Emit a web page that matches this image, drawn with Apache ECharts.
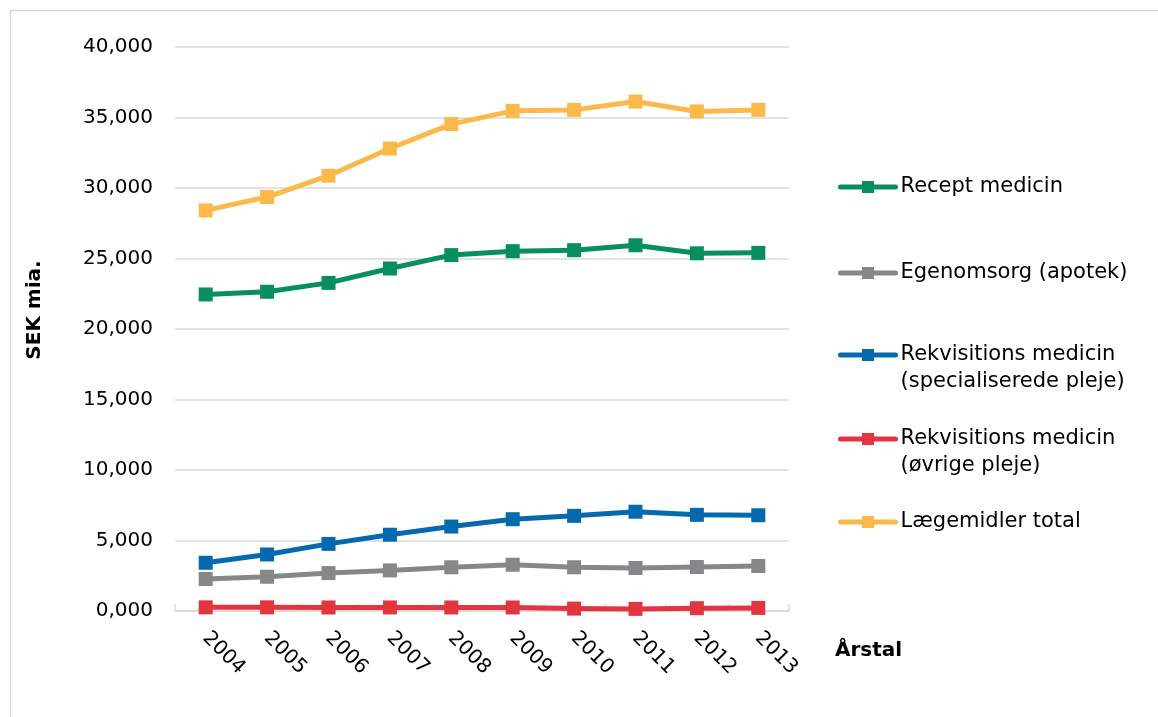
<!DOCTYPE html>
<html>
<head>
<meta charset="utf-8">
<title>Lægemidler</title>
<script src="https://cdn.jsdelivr.net/npm/echarts@6/dist/echarts.min.js"></script>
<style>
  html, body { margin: 0; padding: 0; background: #ffffff; }
  #chart { width: 1158px; height: 717px; }
</style>
</head>
<body>
<div id="chart"></div>
<script>
// Years on the category axis
const years = ['2004', '2005', '2006', '2007', '2008', '2009', '2010', '2011', '2012', '2013'];

// Series values (SEK mia. x 1000)
const receptMedicin = [22450, 22640, 23270, 24290, 25240, 25520, 25590, 25940, 25370, 25400];
const egenomsorg = [2270, 2430, 2690, 2880, 3100, 3280, 3100, 3050, 3120, 3190];
const rekvSpecialiseret = [3420, 4010, 4760, 5410, 5990, 6510, 6750, 7040, 6820, 6790];
const rekvOvrige = [260, 260, 250, 250, 250, 250, 170, 150, 200, 220];
const laegemidlerTotal = [28410, 29360, 30870, 32800, 34530, 35470, 35540, 36130, 35430, 35540];

// Series names as shown in the legend
const seriesNames = [
  'Recept medicin',
  'Egenomsorg (apotek)',
  'Rekvisitions medicin\n(specialiserede pleje)',
  'Rekvisitions medicin\n(øvrige pleje)',
  'Lægemidler total'
];
const seriesColors = ['#078f5d', '#858789', '#0569ad', '#e2353f', '#fcb94b'];
const seriesValues = [receptMedicin, egenomsorg, rekvSpecialiseret, rekvOvrige, laegemidlerTotal];

// Axis titles
const yTitle = 'SEK mia.';
const xTitle = 'Årstal';

// y-axis range
const yMin = 0, yMax = 40000, yStep = 5000;

const FONT = '"DejaVu Sans", Verdana, sans-serif';

const chart = echarts.init(document.getElementById('chart'), null, { renderer: 'canvas' });

const series = seriesNames.map((name, i) => ({
  name: name,
  type: 'line',
  data: seriesValues[i],
  symbol: 'rect',
  symbolSize: 14,
  lineStyle: { width: 5, color: seriesColors[i], cap: 'round', join: 'round' },
  itemStyle: { color: seriesColors[i] },
  emphasis: { disabled: true },
  z: 3
}));

// One legend block per series so each entry sits at its own height.
// Two-line entries get an empty leading line so the icon lines up with the first text line.
const legendCenters = [187, 273, 355, 439, 522];
const LINE_H = 27;
const legends = seriesNames.map((name, i) => {
  const twoLine = name.indexOf('\n') >= 0;
  return {
    data: [name],
    left: 838,
    top: twoLine ? legendCenters[i] - (LINE_H * 3) / 2 : legendCenters[i] - LINE_H / 2,
    padding: 0,
    orient: 'vertical',
    itemWidth: 55,
    itemHeight: 15,
    selectedMode: false,
    lineStyle: { width: 5, cap: 'round' },
    formatter: n => (twoLine ? '\n' + n : n),
    textStyle: {
      fontFamily: FONT,
      fontSize: 21,
      color: '#000000',
      lineHeight: LINE_H
    }
  };
});

chart.setOption({
  animation: false,
  backgroundColor: '#ffffff',
  grid: { left: 175, right: 369, top: 47, bottom: 106, containLabel: false },
  legend: legends,
  xAxis: {
    type: 'category',
    data: years,
    boundaryGap: true,
    axisLine: { show: true, lineStyle: { color: '#d9d9d9', width: 1.5 } },
    axisTick: { show: true, inside: true, length: 7, alignWithLabel: false, lineStyle: { color: '#d9d9d9', width: 1.5 } },
    axisLabel: {
      rotate: -45,
      margin: 24,
      fontFamily: FONT,
      fontSize: 20,
      color: '#000000',
      interval: 0
    },
    splitLine: { show: false }
  },
  yAxis: {
    type: 'value',
    min: yMin,
    max: yMax,
    interval: yStep,
    axisLine: { show: false },
    axisTick: { show: false },
    axisLabel: {
      margin: 22,
      fontFamily: FONT,
      fontSize: 20,
      color: '#000000',
      formatter: v => (v / 1000).toFixed(3).replace('.', ',')
    },
    splitLine: { show: true, lineStyle: { color: '#d9d9d9', width: 1.5 } }
  },
  graphic: [
    {
      type: 'rect',
      shape: { x: 10.5, y: 10.5, width: 1160, height: 720 },
      style: { fill: 'none', stroke: '#d9d9d9', lineWidth: 1.5 },
      silent: true,
      z: -1
    },
    {
      type: 'text',
      x: 35,
      y: 310,
      rotation: Math.PI / 2,
      style: {
        text: yTitle,
        fontFamily: FONT,
        fontSize: 20,
        fontWeight: 'bold',
        fill: '#000000',
        textAlign: 'center',
        textVerticalAlign: 'middle'
      },
      silent: true
    },
    {
      type: 'text',
      x: 835,
      y: 651,
      style: {
        text: xTitle,
        fontFamily: FONT,
        fontSize: 20,
        fontWeight: 'bold',
        fill: '#000000',
        textAlign: 'left',
        textVerticalAlign: 'middle'
      },
      silent: true
    }
  ],
  series: series
});
</script>
</body>
</html>
